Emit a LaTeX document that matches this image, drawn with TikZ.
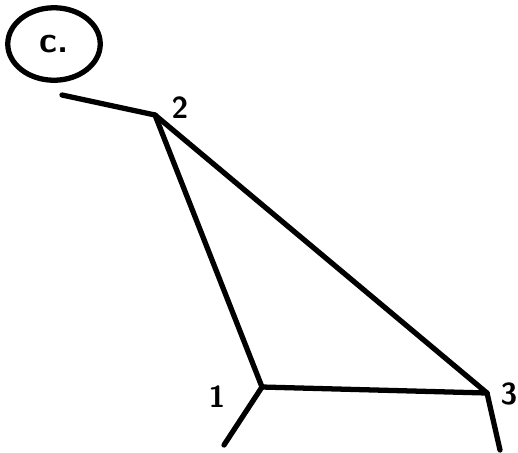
\documentclass[tikz,border=0pt]{standalone}
\usepackage{tikz}
\usetikzlibrary{shapes.geometric, positioning}

\begin{document}
\begin{tikzpicture}[
	x=0.2mm, y=-0.2mm,
	font=\sffamily\bfseries\LARGE,
	vertex/.style={circle, inner sep=0pt, minimum size=1pt},
	label/.style={inner sep=1pt},
	edge/.style={line width=3pt, line cap=round, line join=round}
]
\useasboundingbox (0,0) rectangle (518,452);

\node[draw, ellipse, line width=3pt, inner sep=0pt, minimum width=18.5mm, minimum height=14.5mm, font=\sffamily\bfseries\huge] (tag) at (54,44) {c.};

\node[vertex] (v2) at (155,115) {};
\node[vertex] (v1) at (262,387) {};
\node[vertex] (v3) at (487,393) {};
\coordinate (e2) at (62,95);
\coordinate (e1) at (224,445);
\coordinate (e3) at (500,450);

\node[label] (n2) at (180,108) {2};
\node[label] (n1) at (217,397) {1};
\node[label] (n3) at (509,394) {3};

\draw[edge] (e2) -- (v2.center);
\draw[edge] (v2.center) -- (v1.center);
\draw[edge] (v2.center) -- (v3.center);
\draw[edge] (v1.center) -- (v3.center);
\draw[edge] (v1.center) -- (e1);
\draw[edge] (v3.center) -- (e3);

\end{tikzpicture}
\end{document}
